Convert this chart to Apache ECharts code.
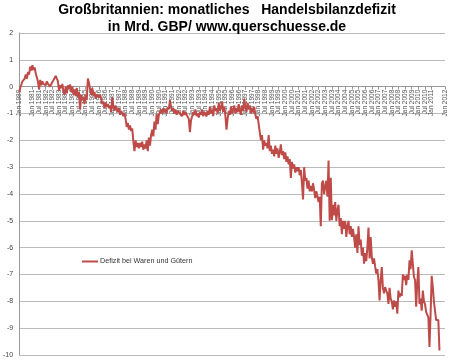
<!DOCTYPE html>
<html>
<head>
<meta charset="utf-8">
<script src="https://cdn.jsdelivr.net/npm/echarts@6/dist/echarts.min.js"></script>
<style>
html,body{margin:0;padding:0;background:#fff;}
#c{width:450px;height:361px;}
</style>
</head>
<body>
<div id="c"></div>
<script>
// Monthly deficit, Mrd. GBP, Jan 1980 .. Aug 2011
const y1980 = [-0.2,-0.05,0.0,0.2,0.15,0.3,0.45,0.3,0.55,0.45,0.75,0.6];
const y1981 = [0.8,0.62,0.72,0.5,0.55,0.18,-0.1,0.25,0.05,0.2,0.1,0.15];
const y1982 = [0.05,0.2,0.1,0.15,0.0,0.1,0.15,0.25,0.3,0.4,0.35,0.2];
const y1983 = [-0.15,0.05,-0.05,0.1,-0.2,-0.3,0.0,-0.25,0.05,-0.1,0.08,-0.2];
const y1984 = [0.0,-0.3,-0.1,-0.35,-0.05,-0.4,-0.2,-0.85,-0.3,-0.5,-0.4,-0.65];
const y1985 = [-0.3,-0.5,0.3,0.15,-0.1,-0.3,-0.05,-0.35,-0.2,-0.45,-0.3,-0.25];
const y1986 = [-0.4,-0.3,-0.45,-0.65,-0.55,-0.8,-0.6,-0.75,-0.65,-0.8,-0.7,-0.95];
const y1987 = [-0.4,-0.75,-0.9,-0.7,-0.85,-0.95,-0.8,-1.05,-0.9,-1.0,-1.1,-1.0];
const y1988 = [-1.2,-1.5,-1.35,-1.6,-1.45,-1.65,-1.55,-2.05,-2.4,-2.0,-2.25,-2.1];
const y1989 = [-2.3,-2.1,-2.25,-2.05,-2.35,-2.15,-2.3,-2.0,-2.4,-1.9,-2.2,-1.8];
const y1990 = [-1.6,-1.85,-1.3,-1.6,-1.0,-1.4,-1.05,-1.1,-0.85,-1.0,-0.8,-0.95];
const y1991 = [-0.85,-1.0,-0.75,-0.85,-0.5,-0.75,-0.9,-0.8,-1.0,-0.85,-1.05,-0.9];
const y1992 = [-0.85,-1.0,-0.95,-1.1,-0.9,-1.05,-0.95,-1.05,-1.0,-1.2,-1.7,-1.25];
const y1993 = [-1.1,-0.95,-1.05,-0.85,-1.1,-1.0,-1.15,-0.95,-1.05,-0.85,-1.1,-0.95];
const y1994 = [-1.0,-1.1,-0.9,-1.05,-0.75,-1.0,-0.85,-1.1,-0.7,-0.9,-0.8,-1.0];
const y1995 = [-0.6,-0.9,-0.8,-0.55,-0.95,-0.75,-1.1,-1.6,-1.2,-0.9,-1.05,-0.75];
const y1996 = [-1.0,-0.85,-0.7,-1.0,-0.8,-0.95,-0.65,-0.9,-1.05,-0.7,-0.9,-0.45];
const y1997 = [-0.75,-0.95,-0.6,-0.85,-0.7,-1.0,-0.8,-0.95,-0.75,-1.05,-1.2,-1.1];
const y1998 = [-1.4,-1.7,-2.0,-1.8,-2.35,-2.0,-2.2,-2.1,-2.3,-1.8,-2.4,-2.2];
const y1999 = [-2.5,-2.35,-2.6,-2.2,-2.5,-2.3,-2.65,-2.45,-2.15,-2.55,-2.4,-2.7];
const y2000 = [-2.45,-2.8,-2.6,-2.9,-2.7,-3.4,-2.8,-3.05,-2.9,-3.2,-3.0,-3.15];
const y2001 = [-3.0,-3.3,-3.1,-3.6,-4.2,-3.0,-3.5,-3.4,-3.8,-3.5,-3.9,-3.7];
const y2002 = [-3.9,-3.6,-3.85,-4.15,-3.9,-3.85,-4.3,-4.1,-5.2,-3.6,-3.5,-4.0];
const y2003 = [-3.7,-3.5,-4.1,-2.75,-5.0,-3.4,-4.98,-4.4,-4.8,-4.3,-5.0,-4.6];
const y2004 = [-4.4,-5.2,-4.9,-5.5,-5.0,-5.3,-5.0,-5.6,-5.2,-5.0,-5.5,-5.2];
const y2005 = [-5.6,-5.3,-5.6,-6.0,-5.5,-6.2,-5.2,-5.9,-5.7,-6.3,-6.0,-6.6];
const y2006 = [-6.2,-6.5,-6.0,-5.25,-6.4,-5.6,-6.35,-6.6,-6.4,-6.7,-6.97,-6.8];
const y2007 = [-7.22,-7.97,-7.2,-6.72,-7.5,-7.7,-7.47,-7.6,-7.7,-8.1,-7.5,-7.9];
const y2008 = [-8.0,-8.3,-7.97,-8.2,-8.0,-8.46,-7.6,-7.85,-7.7,-7.8,-7.0,-7.2];
const y2009 = [-7.05,-7.4,-7.0,-7.2,-6.47,-6.8,-6.1,-6.6,-7.1,-7.2,-8.2,-7.3];
const y2010 = [-6.72,-8.1,-7.9,-8.35,-7.6,-8.0,-8.1,-8.4,-8.35,-8.6,-9.7,-8.5];
const y2011 = [-7.05,-7.47,-8.0,-8.35,-8.7,-8.65,-8.7,-9.83];

const deficit = [].concat(y1980,y1981,y1982,y1983,y1984,y1985,y1986,y1987,y1988,y1989,
  y1990,y1991,y1992,y1993,y1994,y1995,y1996,y1997,y1998,y1999,y2000,y2001,y2002,
  y2003,y2004,y2005,y2006,y2007,y2008,y2009,y2010,y2011);

const monthNames = ['Jan','Feb','Mar','Apr','May','Jun','Jul','Aug','Sep','Oct','Nov','Dec'];
const firstYear = 1980, lastYear = 2012;
const categories = [];
for (let y = firstYear; y <= lastYear; y++) {
  for (let m = 0; m < 12; m++) {
    if (y === lastYear && m > 0) break;
    categories.push(monthNames[m] + ' ' + y);
  }
}

const yMin = -10, yMax = 2;
const gridTop = 33, gridBottom = 6, H = 361;
const plotH = H - gridTop - gridBottom;
// move the category axis up so it crosses the value axis at 0
const zeroOffset = -plotH * (0 - yMin) / (yMax - yMin);

const chart = echarts.init(document.getElementById('c'), null, {renderer: 'canvas'});
chart.setOption({
  animation: false,
  backgroundColor: '#ffffff',
  textStyle: {fontFamily: 'Liberation Sans, Arial, sans-serif'},
  title: {
    text: 'Großbritannien: monatliches   Handelsbilanzdefizit\nin Mrd. GBP/ www.querschuesse.de',
    left: 222, top: -3, textAlign: 'center',
    textStyle: {fontSize: 14, fontWeight: 'bold', color: '#000', lineHeight: 17, fontFamily: 'Liberation Sans, Arial, sans-serif'}
  },
  legend: {
    left: 77, top: 253,
    icon: 'rect', itemWidth: 16, itemHeight: 2, itemGap: 2,
    textStyle: {fontSize: 7.2, color: '#333', padding: [0,0,0,-3]},
    data: ['Defizit bei Waren und Gütern']
  },
  grid: {left: 18, right: 5, top: gridTop, bottom: gridBottom, containLabel: false},
  xAxis: {
    type: 'category',
    data: categories,
    boundaryGap: false,
    offset: zeroOffset,
    axisLine: {onZero: false, lineStyle: {color: '#999', width: 1}},
    axisTick: {show: true, length: 3, interval: (i) => i % 6 === 0, lineStyle: {color: '#999'}},
    axisLabel: {
      interval: (i) => i % 6 === 0,
      showMinLabel: true, showMaxLabel: true, hideOverlap: false,
      rotate: 90, fontSize: 6.5, color: '#555', margin: 3
    },
    splitLine: {show: false}
  },
  yAxis: {
    type: 'value', min: yMin, max: yMax, interval: 1,
    axisLine: {show: true, lineStyle: {color: '#999'}},
    axisTick: {show: false},
    axisLabel: {fontSize: 7, color: '#444', margin: 6},
    splitLine: {lineStyle: {color: '#bbb', width: 1}}
  },
  series: [{
    name: 'Defizit bei Waren und Gütern',
    type: 'line',
    data: deficit,
    showSymbol: false,
    symbol: 'none',
    lineStyle: {color: '#BE4B48', width: 2},
    itemStyle: {color: '#BE4B48'}
  }]
});
</script>
</body>
</html>
